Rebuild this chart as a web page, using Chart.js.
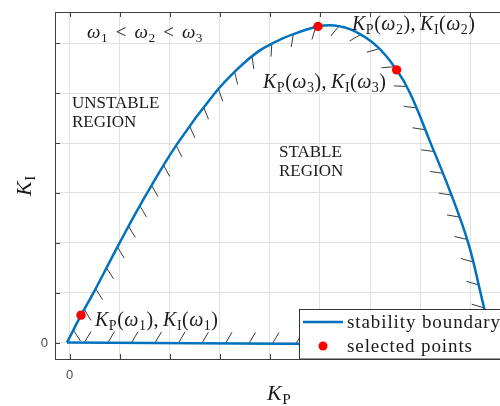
<!DOCTYPE html>
<html>
<head>
<meta charset="utf-8">
<script src="https://cdn.jsdelivr.net/npm/chart.js@4.4.1/dist/chart.umd.min.js"></script>
<style>
  html, body { margin: 0; padding: 0; background: #fff; overflow: hidden; }
  #wrap { width: 520px; height: 406px; }
</style>
</head>
<body>
<div id="wrap"><canvas id="chart" width="520" height="406"></canvas></div>
<script>
// Stability boundary in the (KP, KI) plane
const arcKp = [-0.05, 0.23, 0.48, 1.00, 1.55, 2.16, 2.90, 3.40, 3.77, 4.05, 4.43, 4.96, 5.29, 5.68, 6.14, 6.53, 6.80, 7.21, 7.61, 7.96, 8.21, 8.45];
const arcKi = [0.00, 0.55, 1.00, 2.00, 3.00, 4.00, 5.00, 5.53, 5.84, 6.00, 6.17, 6.34, 6.36, 6.25, 5.94, 5.47, 5.00, 4.00, 3.00, 2.00, 0.98, -0.05];
// straight part along KI = 0 closing the region
const baseKp = [8.45, -0.05];
const baseKi = [-0.05, 0.00];
// selected points for w1, w2, w3
const selKp = [0.23, 4.96, 6.53];
const selKi = [0.55, 6.34, 5.47];
const selLabels = ['K_P(ω_1), K_I(ω_1)', 'K_P(ω_2), K_I(ω_2)', 'K_P(ω_3), K_I(ω_3)'];
// axis ticks (only zero is labelled)
const xTicks = [0, 1, 2, 3, 4, 5, 6, 7, 8];
const yTicks = [0, 1, 2, 3, 4, 5, 6];

const BLUE = '#0072BD';
const SERIF = '"Liberation Serif", "Times New Roman", serif';
const TXT = '#1a1a1a';

const toXY = (xs, ys) => xs.map((x, i) => ({ x: x, y: ys[i] }));

// draw a tiny latex-like string: letters italic, "_c" subscript roman
function drawMath(ctx, s, x, y, size, gap) {
    gap = gap || 0;
    let cx = x;
    for (let i = 0; i < s.length; i++) {
        let ch = s[i];
        let sub = false;
        if (ch === '_') { sub = true; ch = s[++i]; }
        if (ch === ' ') { cx += size * 0.2; continue; }
        const italic = /[A-Za-zω]/.test(ch) && !sub;
        const fs = sub ? size * 0.7 : size;
        ctx.font = (italic ? 'italic ' : '') + fs + 'px ' + SERIF;
        ctx.fillText(ch, cx, y + (sub ? size * 0.2 : 0));
        cx += ctx.measureText(ch).width + gap;
    }
    return cx - x;
}

// sample the drawn (bezier) path of a line dataset in pixels
function samplePath(meta) {
    const pts = meta.data;
    const out = [];
    for (let i = 0; i < pts.length - 1; i++) {
        const a = pts[i], b = pts[i + 1];
        const c1x = a.cp2x ?? a.x, c1y = a.cp2y ?? a.y;
        const c2x = b.cp1x ?? b.x, c2y = b.cp1y ?? b.y;
        for (let k = 0; k < 16; k++) {
            const t = k / 16, u = 1 - t;
            out.push({
                x: u*u*u*a.x + 3*u*u*t*c1x + 3*u*t*t*c2x + t*t*t*b.x,
                y: u*u*u*a.y + 3*u*u*t*c1y + 3*u*t*t*c2y + t*t*t*b.y
            });
        }
    }
    const last = pts[pts.length - 1];
    out.push({ x: last.x, y: last.y });
    return out;
}

const hatchPlugin = {
    id: 'hatch',
    beforeDatasetsDraw(chart) {
        const ctx = chart.ctx;
        const a = chart.chartArea;
        const xs = chart.scales.x, ys = chart.scales.y;
        ctx.save();
        // inward ticks and top box line
        ctx.strokeStyle = '#404040';
        ctx.lineWidth = 1;
        ctx.beginPath();
        xTicks.forEach(v => {
            const px = Math.round(xs.getPixelForValue(v)) + 0.5;
            ctx.moveTo(px, a.bottom); ctx.lineTo(px, a.bottom - 5);
            ctx.moveTo(px, a.top); ctx.lineTo(px, a.top + 5);
        });
        yTicks.forEach(v => {
            const py = Math.round(ys.getPixelForValue(v)) + 0.5;
            ctx.moveTo(a.left, py); ctx.lineTo(a.left + 5, py);
        });
        ctx.moveTo(a.left, a.top + 0.5); ctx.lineTo(a.right, a.top + 0.5);
        ctx.stroke();

        // hatch marks along the boundary, pointing into the stable region
        let path = [];
        chart.data.datasets.forEach((ds, i) => {
            if (ds.boundary) path = path.concat(samplePath(chart.getDatasetMeta(i)));
        });
        const step = 23.5, len = 13, rot = 30 * Math.PI / 180;
        let next = 14, acc = 0;
        ctx.strokeStyle = '#3a3a3a';
        ctx.lineWidth = 1;
        ctx.beginPath();
        for (let i = 0; i < path.length - 1; i++) {
            const p = path[i], q = path[i + 1];
            const d = Math.hypot(q.x - p.x, q.y - p.y);
            if (d === 0) continue;
            while (acc + d >= next) {
                const t = (next - acc) / d;
                const hx = p.x + (q.x - p.x) * t, hy = p.y + (q.y - p.y) * t;
                const tx = (q.x - p.x) / d, ty = (q.y - p.y) / d;
                const ang = Math.atan2(tx, -ty) + rot;
                ctx.moveTo(hx, hy);
                ctx.lineTo(hx + len * Math.cos(ang), hy + len * Math.sin(ang));
                next += step;
            }
            acc += d;
        }
        ctx.stroke();
        ctx.restore();
    },
    afterDraw(chart) {
        const ctx = chart.ctx;
        const a = chart.chartArea;
        const xs = chart.scales.x, ys = chart.scales.y;
        ctx.save();
        ctx.textBaseline = 'alphabetic';

        // tick labels
        ctx.font = '13px "Liberation Sans", Arial, sans-serif';
        ctx.fillStyle = '#4d4d4d';
        ctx.textAlign = 'center';
        ctx.fillText('0', xs.getPixelForValue(0), a.bottom + 20);
        ctx.textAlign = 'right';
        ctx.textBaseline = 'middle';
        ctx.fillText('0', a.left - 7, ys.getPixelForValue(0) + 1);
        ctx.textAlign = 'left';
        ctx.textBaseline = 'alphabetic';
        ctx.fillStyle = TXT;

        // annotations
        drawMath(ctx, 'ω_1  <  ω_2  <  ω_3', 87, 38, 19, 0.5);
        ctx.font = '17px ' + SERIF;
        ctx.fillText('UNSTABLE', 72, 108);
        ctx.fillText('REGION', 72, 127);
        ctx.fillText('STABLE', 279, 157);
        ctx.fillText('REGION', 279, 176);
        drawMath(ctx, selLabels[0], 95, 326, 20, 0.5);
        drawMath(ctx, selLabels[1], 352, 30, 20, 0.5);
        drawMath(ctx, selLabels[2], 263, 88, 20, 0.5);

        // axis titles
        drawMath(ctx, 'K_P', 267, 400, 22, 0.5);
        ctx.save();
        ctx.translate(31, 196);
        ctx.rotate(-Math.PI / 2);
        drawMath(ctx, 'K_I', 0, 0, 22, 0.5);
        ctx.restore();

        // legend box
        const lx = 299, ly = 309.5;
        ctx.fillStyle = '#fff';
        ctx.fillRect(lx, ly, 240, a.bottom - ly);
        ctx.strokeStyle = '#333';
        ctx.lineWidth = 1;
        ctx.strokeRect(lx + 0.5, ly, 240, a.bottom - ly);
        const line = chart.data.datasets[1];
        const pts = chart.data.datasets[0];
        ctx.strokeStyle = line.borderColor;
        ctx.lineWidth = line.borderWidth;
        ctx.beginPath();
        ctx.moveTo(303, 322); ctx.lineTo(343, 322);
        ctx.stroke();
        ctx.fillStyle = pts.backgroundColor;
        ctx.beginPath();
        ctx.arc(323, 346, 4.5, 0, Math.PI * 2);
        ctx.fill();
        ctx.fillStyle = TXT;
        ctx.font = '19px ' + SERIF;
        ctx.letterSpacing = '0.9px';
        ctx.fillText(line.label, 347, 328);
        ctx.fillText(pts.label, 347, 352);
        ctx.restore();
    }
};

const ctx = document.getElementById('chart').getContext('2d');
new Chart(ctx, {
    type: 'scatter',
    data: {
        datasets: [
            {
                label: 'selected points',
                data: toXY(selKp, selKi),
                backgroundColor: '#FF0000',
                borderColor: '#FF0000',
                pointRadius: 4.7,
                pointBorderWidth: 0,
                showLine: false
            },
            {
                label: 'stability boundary',
                boundary: true,
                data: toXY(arcKp, arcKi),
                borderColor: BLUE,
                borderWidth: 2.5,
                pointRadius: 0,
                showLine: true,
                tension: 0.4
            },
            {
                label: 'stability boundary (base)',
                boundary: true,
                data: toXY(baseKp, baseKi),
                borderColor: BLUE,
                borderWidth: 2.5,
                pointRadius: 0,
                showLine: true,
                tension: 0
            }
        ]
    },
    options: {
        responsive: false,
        animation: false,
        devicePixelRatio: 1,
        layout: { padding: { left: 55, top: 12, right: 0, bottom: 47 } },
        plugins: {
            legend: { display: false },
            tooltip: { enabled: false }
        },
        scales: {
            x: {
                type: 'linear',
                min: -0.29,
                max: 8.9,
                afterBuildTicks: s => { s.ticks = xTicks.map(v => ({ value: v })); },
                ticks: { display: false },
                grid: { color: '#e1e1e1', drawTicks: false },
                border: { color: '#404040', width: 1 }
            },
            y: {
                type: 'linear',
                min: -0.33,
                max: 6.63,
                afterBuildTicks: s => { s.ticks = yTicks.map(v => ({ value: v })); },
                ticks: { display: false },
                grid: { color: '#e1e1e1', drawTicks: false },
                border: { color: '#404040', width: 1 }
            }
        }
    },
    plugins: [hatchPlugin]
});
</script>
</body>
</html>
